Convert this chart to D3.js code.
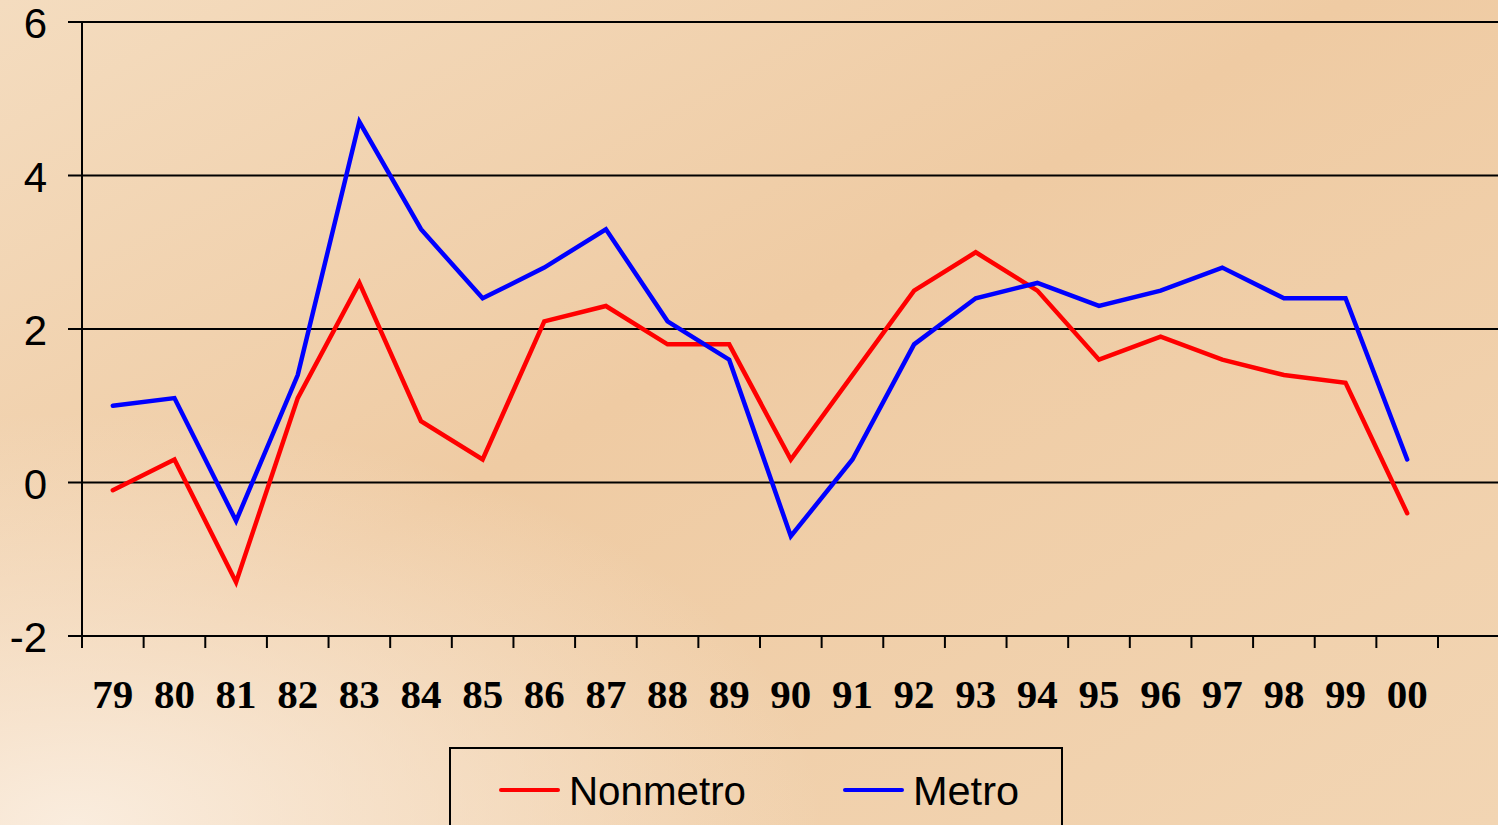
<!DOCTYPE html>
<html>
<head>
<meta charset="utf-8" />
<script src="https://cdn.jsdelivr.net/npm/d3@7"></script>
<style>
  html, body { margin: 0; padding: 0; overflow: hidden; }
</style>
</head>
<body>
<div id="chart"></div>
<script>
// Chart data
var years = ["79", "80", "81", "82", "83", "84", "85", "86", "87", "88", "89",
             "90", "91", "92", "93", "94", "95", "96", "97", "98", "99", "00"];
var nonmetro = [-0.1, 0.3, -1.3, 1.1, 2.6, 0.8, 0.3, 2.1, 2.3, 1.8, 1.8,
                0.3, 1.4, 2.5, 3.0, 2.5, 1.6, 1.9, 1.6, 1.4, 1.3, -0.4];
var metro = [1.0, 1.1, -0.5, 1.4, 4.7, 3.3, 2.4, 2.8, 3.3, 2.1, 1.6,
             -0.7, 0.3, 1.8, 2.4, 2.6, 2.3, 2.5, 2.8, 2.4, 2.4, 0.3];
var yTicks = [-2, 0, 2, 4, 6];
var seriesNames = ["Nonmetro", "Metro"];

var width = 1498;
var height = 825;

var svg = d3.select('#chart')
    .append('svg')
    .attr('width', width)
    .attr('height', height);

// Background gradient
var defs = svg.append('defs');
var lin = defs.append('linearGradient')
    .attr('id', 'bg')
    .attr('x1', '0').attr('y1', '0').attr('x2', '1').attr('y2', '1');
lin.append('stop').attr('offset', '0%').attr('stop-color', '#f4dcbf');
lin.append('stop').attr('offset', '45%').attr('stop-color', '#efcba3');
lin.append('stop').attr('offset', '100%').attr('stop-color', '#f2d5b3');
var rad = defs.append('radialGradient')
    .attr('id', 'glow')
    .attr('cx', '0.05').attr('cy', '1.0').attr('r', '0.5');
rad.append('stop').attr('offset', '0%').attr('stop-color', '#fbf0e4').attr('stop-opacity', 0.9);
rad.append('stop').attr('offset', '100%').attr('stop-color', '#fbf0e4').attr('stop-opacity', 0);

svg.append('rect').attr('width', width).attr('height', height).attr('fill', 'url(#bg)');
svg.append('rect').attr('width', width).attr('height', height).attr('fill', 'url(#glow)');

// Scales
var x = d3.scaleBand()
    .domain(years)
    .range([82, 1438]);

var y = d3.scaleLinear()
    .domain([-2, 6])
    .range([636, 22]);

// Gridlines
svg.append('g')
    .selectAll('line')
    .data(yTicks)
    .enter()
    .append('line')
    .attr('x1', 68)
    .attr('x2', width)
    .attr('y1', function (d) { return y(d); })
    .attr('y2', function (d) { return y(d); })
    .attr('stroke', '#000')
    .attr('stroke-width', 2);

// Y axis line
svg.append('line')
    .attr('x1', 82).attr('x2', 82)
    .attr('y1', y(6) - 1).attr('y2', y(-2) + 1)
    .attr('stroke', '#000')
    .attr('stroke-width', 2);

// Y labels
svg.append('g')
    .selectAll('text')
    .data(yTicks)
    .enter()
    .append('text')
    .attr('x', 47)
    .attr('y', function (d) { return y(d) + 16; })
    .attr('text-anchor', 'end')
    .attr('font-family', 'Liberation Sans, Arial, sans-serif')
    .attr('font-size', 42)
    .attr('fill', '#000')
    .text(function (d) { return d; });

// X tick marks at band edges
var edges = years.map(function (d) { return x(d); }).concat([x.range()[1]]);
svg.append('g')
    .selectAll('line')
    .data(edges)
    .enter()
    .append('line')
    .attr('x1', function (d) { return d; })
    .attr('x2', function (d) { return d; })
    .attr('y1', y(-2))
    .attr('y2', y(-2) + 12)
    .attr('stroke', '#000')
    .attr('stroke-width', 2);

// X labels
svg.append('g')
    .selectAll('text')
    .data(years)
    .enter()
    .append('text')
    .attr('x', function (d) { return x(d) + x.bandwidth() / 2; })
    .attr('y', 708)
    .attr('text-anchor', 'middle')
    .attr('font-family', 'Liberation Serif, Times New Roman, serif')
    .attr('font-weight', 'bold')
    .attr('font-size', 41)
    .attr('fill', '#000')
    .text(function (d) { return d; });

// Lines
var line = d3.line()
    .x(function (d, i) { return x(years[i]) + x.bandwidth() / 2; })
    .y(function (d) { return y(d); });

[[nonmetro, '#ff0000'], [metro, '#0000ff']].forEach(function (s) {
    svg.append('path')
        .datum(s[0])
        .attr('d', line)
        .attr('fill', 'none')
        .attr('stroke', s[1])
        .attr('stroke-width', 4.5)
        .attr('stroke-linejoin', 'miter')
        .attr('stroke-linecap', 'round');
});

// Legend
svg.append('rect')
    .attr('x', 450).attr('y', 748)
    .attr('width', 612).attr('height', 100)
    .attr('fill', 'none')
    .attr('stroke', '#000')
    .attr('stroke-width', 2);

var legendItems = [
    { name: seriesNames[0], color: '#ff0000', x: 501 },
    { name: seriesNames[1], color: '#0000ff', x: 845 }
];
var lg = svg.append('g')
    .selectAll('g')
    .data(legendItems)
    .enter()
    .append('g');
lg.append('line')
    .attr('x1', function (d) { return d.x; })
    .attr('x2', function (d) { return d.x + 57; })
    .attr('y1', 790).attr('y2', 790)
    .attr('stroke', function (d) { return d.color; })
    .attr('stroke-width', 4)
    .attr('stroke-linecap', 'round');
lg.append('text')
    .attr('x', function (d) { return d.x + 68; })
    .attr('y', 805)
    .attr('font-family', 'Liberation Sans, Arial, sans-serif')
    .attr('font-size', 40)
    .attr('textLength', function (d) { return d.name === 'Nonmetro' ? 177 : 106; })
    .attr('lengthAdjust', 'spacingAndGlyphs')
    .attr('fill', '#000')
    .text(function (d) { return d.name; });
</script>
</body>
</html>
